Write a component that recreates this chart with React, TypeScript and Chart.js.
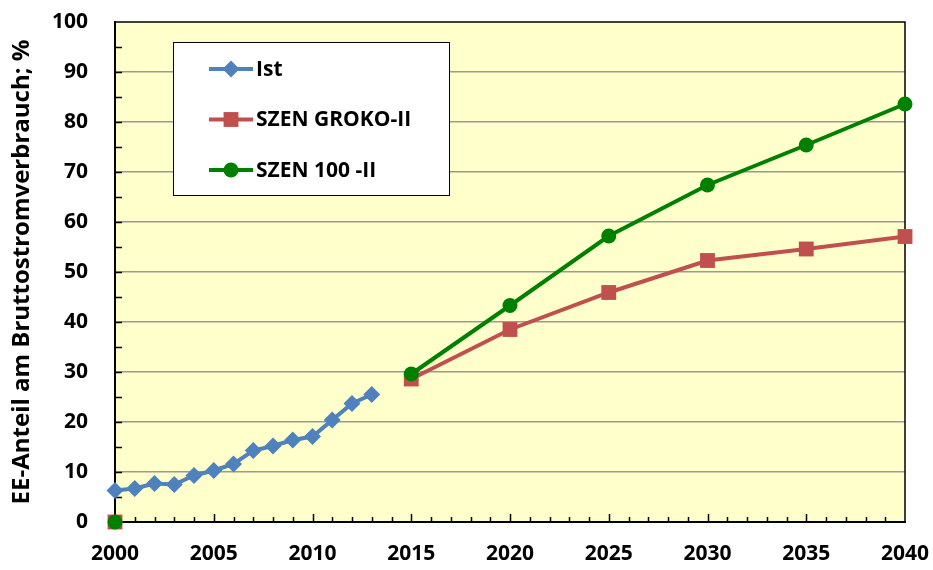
import React, { useEffect, useRef } from "react";
import { Chart, registerables } from "chart.js";

Chart.register(...registerables);

const istYears = [2000, 2001, 2002, 2003, 2004, 2005, 2006, 2007, 2008, 2009, 2010, 2011, 2012, 2013];
const istValues = [6.3, 6.7, 7.7, 7.5, 9.3, 10.3, 11.6, 14.3, 15.2, 16.4, 17.1, 20.4, 23.7, 25.5];
const scenYears = [2000, 2005, 2015, 2020, 2025, 2030, 2035, 2040];
const grokoValues = [0, null, 28.6, 38.5, 45.9, 52.3, 54.6, 57.1];
const szen100Values = [0, null, 29.6, 43.3, 57.2, 67.4, 75.4, 83.6];
const seriesNames = ["Ist", "SZEN GROKO-II", "SZEN 100 -II"];
const yTitle = "EE-Anteil am Bruttostromverbrauch; %";

const FONT = "'Open Sans', 'Noto Sans', sans-serif";

const frameAndTicks = {
  id: "frameAndTicks",
  beforeDraw(chart: any) {
    const { ctx, chartArea: a } = chart;
    ctx.save();
    ctx.fillStyle = "#FFFFCC";
    ctx.fillRect(a.left, a.top, a.right - a.left, a.bottom - a.top);
    ctx.restore();
  },
  beforeDatasetsDraw(chart: any) {
    const { ctx, chartArea: a, scales } = chart;
    const x = scales.x;
    const y = scales.y;
    ctx.save();
    ctx.strokeStyle = "#000";
    ctx.lineWidth = 1.5;
    ctx.beginPath();
    ctx.moveTo(a.left, a.top);
    ctx.lineTo(a.right, a.top);
    ctx.lineTo(a.right, a.bottom);
    ctx.stroke();
    ctx.lineWidth = 1.5;
    ctx.beginPath();
    for (let v = 5; v < 100; v += 5) {
      const py = Math.round(y.getPixelForValue(v)) + 0.5;
      ctx.moveTo(a.left, py);
      ctx.lineTo(a.left + 7, py);
    }
    for (let yr = 2001; yr < 2040; yr++) {
      const px = Math.round(x.getPixelForValue(yr)) + 0.5;
      const len = yr % 5 === 0 ? 8 : 5;
      ctx.moveTo(px, a.bottom);
      ctx.lineTo(px, a.bottom - len);
    }
    ctx.stroke();
    ctx.restore();
  },
  afterDraw(chart: any) {
    const { ctx } = chart;
    const ds = chart.data.datasets;
    const bx = 173, by = 42, bw = 276, bh = 153;
    ctx.save();
    ctx.fillStyle = "#fff";
    ctx.fillRect(bx, by, bw, bh);
    ctx.strokeStyle = "#000";
    ctx.lineWidth = 1;
    ctx.strokeRect(bx + 0.5, by + 0.5, bw, bh);
    const rows = [69, 119.5, 170];
    ds.forEach((d: any, i: number) => {
      const ry = rows[i];
      ctx.strokeStyle = d.borderColor;
      ctx.lineWidth = d.borderWidth;
      ctx.beginPath();
      ctx.moveTo(209, ry);
      ctx.lineTo(253, ry);
      ctx.stroke();
      ctx.fillStyle = d.backgroundColor;
      ctx.beginPath();
      const r = d.pointRadius;
      if (d.pointStyle === "rectRot") {
        ctx.moveTo(231, ry - r);
        ctx.lineTo(231 + r, ry);
        ctx.lineTo(231, ry + r);
        ctx.lineTo(231 - r, ry);
        ctx.closePath();
      } else if (d.pointStyle === "rect") {
        const s = r * Math.SQRT1_2;
        ctx.rect(231 - s, ry - s, 2 * s, 2 * s);
      } else {
        ctx.arc(231, ry, r, 0, Math.PI * 2);
      }
      ctx.fill();
      ctx.fillStyle = "#000";
      ctx.font = "bold 21px " + FONT;
      ctx.textBaseline = "middle";
      ctx.textAlign = "left";
      ctx.fillText(d.label, 256, ry + 1);
    });
    ctx.restore();
  },
};

export default function App() {
  const ref = useRef<HTMLCanvasElement>(null);
  useEffect(() => {
    document.body.style.margin = "0";
    const chart = new Chart(ref.current!, {
      type: "line",
      data: {
        datasets: [
          {
            label: seriesNames[0],
            data: istYears.map((yr, i) => ({ x: yr, y: istValues[i] })),
            borderColor: "#4F81BD",
            backgroundColor: "#4F81BD",
            borderWidth: 4,
            pointStyle: "rectRot",
            pointRadius: 8.5,
            pointBorderWidth: 0,
            clip: false,
            order: 2,
          },
          {
            label: seriesNames[1],
            data: scenYears.map((yr, i) => ({ x: yr, y: grokoValues[i] })),
            borderColor: "#C0504D",
            backgroundColor: "#C0504D",
            borderWidth: 4,
            pointStyle: "rect",
            pointRadius: 10.5,
            pointBorderWidth: 0,
            clip: false,
            order: 1,
          },
          {
            label: seriesNames[2],
            data: scenYears.map((yr, i) => ({ x: yr, y: szen100Values[i] })),
            borderColor: "#008000",
            backgroundColor: "#008000",
            borderWidth: 4,
            pointStyle: "circle",
            pointRadius: 7.5,
            pointBorderWidth: 0,
            clip: false,
            order: 0,
          },
        ] as any,
      },
      options: {
        responsive: false,
        animation: false,
        spanGaps: false,
        layout: { padding: { left: 0, top: 22, right: 28, bottom: 0 } },
        plugins: { legend: { display: false }, tooltip: { enabled: false } },
        elements: { line: { tension: 0 } },
        scales: {
          x: {
            type: "linear",
            min: 2000,
            max: 2040,
            grid: { display: false, drawTicks: false },
            border: { display: true, color: "#000", width: 2 },
            ticks: {
              stepSize: 5,
              padding: 19,
              color: "#000",
              font: { family: FONT, size: 21, weight: "bold" },
              callback: (v: any) => String(v),
            },
            afterFit: (s: any) => {
              s.height = 48;
              s.paddingLeft = 0;
              s.paddingRight = 0;
            },
          },
          y: {
            min: 0,
            max: 100,
            grid: {
              drawTicks: false,
              color: (c: any) => (c.tick && (c.tick.value === 0 || c.tick.value === 100) ? "rgba(0,0,0,0)" : "#9A9A9A"),
              lineWidth: 1.5,
            },
            border: { display: true, color: "#000", width: 2 },
            ticks: {
              stepSize: 10,
              padding: 27,
              color: "#000",
              font: { family: FONT, size: 21, weight: "bold" },
            },
            title: {
              display: true,
              text: yTitle,
              color: "#000",
              font: { family: FONT, size: 24, weight: "bold" },
              padding: { top: 8, bottom: 0 },
            },
            afterFit: (s: any) => {
              s.width = 115;
              s.paddingTop = 0;
              s.paddingBottom = 0;
            },
          },
        },
      },
      plugins: [frameAndTicks],
    });
    return () => chart.destroy();
  }, []);
  return <canvas ref={ref} width={933} height={570} style={{ display: "block" }} />;
}
